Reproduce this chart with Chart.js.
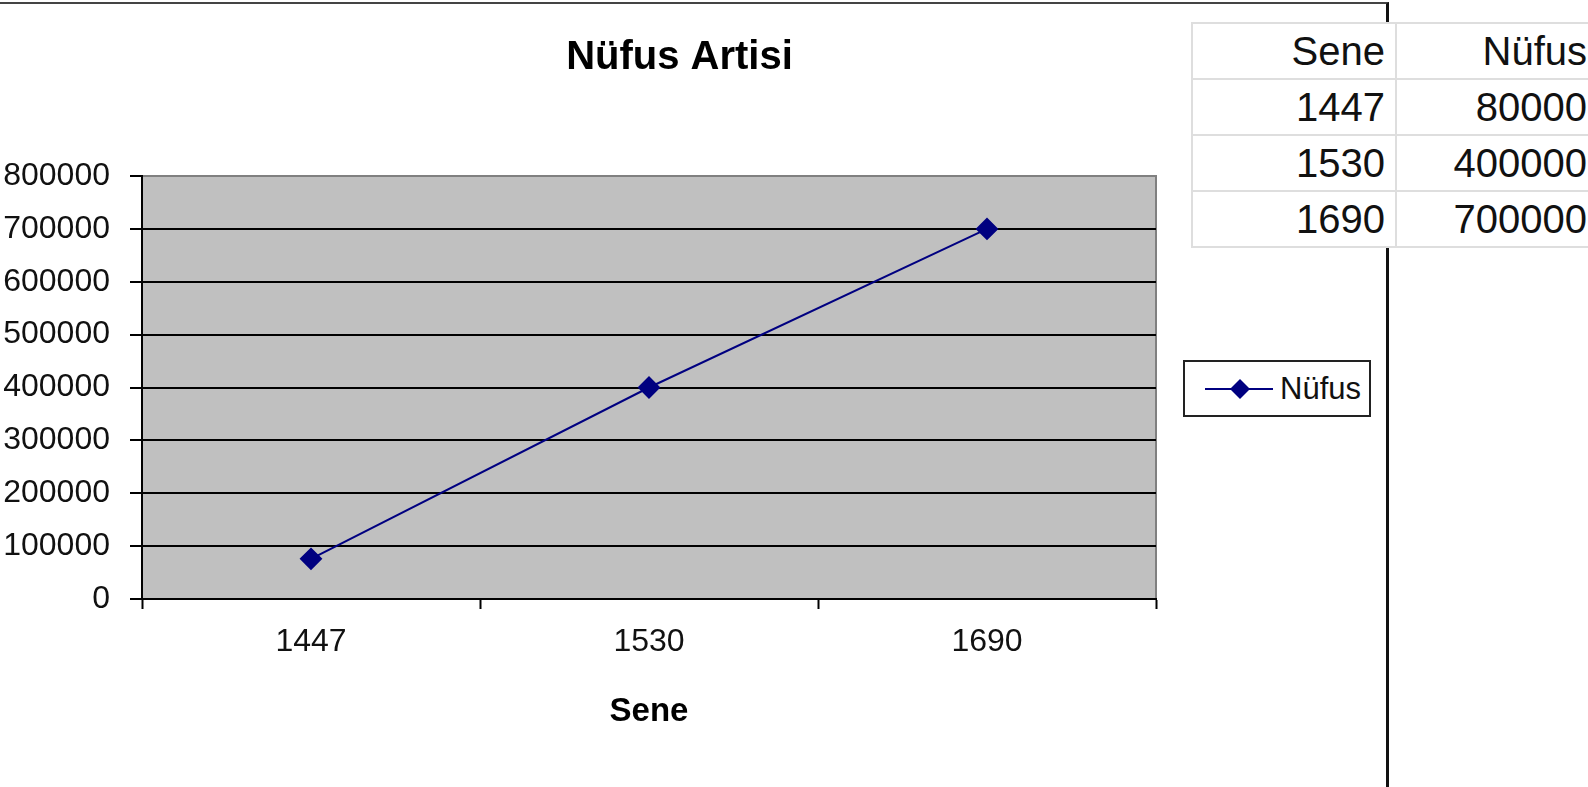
<!DOCTYPE html>
<html>
<head>
<meta charset="utf-8">
<script src="https://cdn.jsdelivr.net/npm/chart.js@4"></script>
<style>
  body { margin: 0; background: #fff; width: 1588px; height: 787px; overflow: hidden; position: relative; font-family: "Liberation Sans", Arial, sans-serif; }
  #frame { position: absolute; left: 0; top: 2px; width: 1386px; height: 783px; border-top: 2px solid #444; border-right: 3px solid #111; border-bottom: 1px solid #bbb; }
  #chart-box { position: absolute; left: 0; top: 4px; width: 1387px; height: 781px; }
  #data-table { position: absolute; left: 1191px; top: 22px; width: 410px; table-layout: fixed; border-collapse: collapse; background: #fff; z-index: 2; }
  #data-table td { border: 2px solid #dedede; height: 54px; padding: 0 10px 0 0; font-size: 40px; color: #111; text-align: right; line-height: 1; white-space: nowrap; overflow: hidden; }
  #data-table td + td { padding-right: 14px; }
  #legend { position: absolute; left: 1183px; top: 360px; width: 184px; height: 53px; border: 2px solid #222; background: #fff; }
  #legend svg { position: absolute; left: 18px; top: 13px; }
  #legend span { position: absolute; left: 95px; top: 9px; font-size: 31px; color: #111; }
</style>
</head>
<body>
<div id="frame"></div>
<div id="chart-box"><canvas id="nufus-chart" width="1387" height="781"></canvas></div>

<table id="data-table">
  <colgroup><col style="width:204px"><col style="width:206px"></colgroup>
  <tr><td>Sene</td><td>Nüfus</td></tr>
  <tr><td>1447</td><td>80000</td></tr>
  <tr><td>1530</td><td>400000</td></tr>
  <tr><td>1690</td><td>700000</td></tr>
</table>

<div id="legend">
  <svg width="72" height="28">
    <line x1="2" y1="14" x2="70" y2="14" stroke="#000080" stroke-width="2"></line>
    <polygon points="37,4 47,14 37,24 27,14" fill="#000080"></polygon>
  </svg>
  <span>Nüfus</span>
</div>

<script>
const years = ["1447", "1530", "1690"];
const population = [76000, 400000, 700000];
const yTicks = [0, 100000, 200000, 300000, 400000, 500000, 600000, 700000, 800000];

// gray plot area like the old excel chart
const plotBackground = {
  id: "plotBackground",
  beforeDraw(chart) {
    const { ctx, chartArea } = chart;
    ctx.save();
    ctx.fillStyle = "#c0c0c0";
    ctx.fillRect(chartArea.left, chartArea.top, chartArea.right - chartArea.left, chartArea.bottom - chartArea.top);
    ctx.strokeStyle = "#808080";
    ctx.lineWidth = 2;
    ctx.beginPath();
    ctx.moveTo(chartArea.left, chartArea.top);
    ctx.lineTo(chartArea.right, chartArea.top);
    ctx.lineTo(chartArea.right, chartArea.bottom);
    ctx.stroke();
    ctx.restore();
  },
};

new Chart(document.getElementById("nufus-chart"), {
  type: "line",
  data: {
    labels: years,
    datasets: [
      {
        label: "Nüfus",
        data: population,
        borderColor: "#000080",
        backgroundColor: "#000080",
        borderWidth: 2,
        pointStyle: "rectRot",
        pointRadius: 10,
        pointHoverRadius: 10,
        fill: false,
        tension: 0,
      },
    ],
  },
  options: {
    responsive: false,
    animation: false,
    layout: {
      padding: { left: 0, right: 28, top: 0, bottom: 0 },
    },
    plugins: {
      legend: { display: false },
      tooltip: { enabled: false },
      title: {
        display: true,
        text: "Nüfus Artisi",
        color: "#000",
        font: { family: "Liberation Sans", size: 40, weight: "bold", lineHeight: 1.2 },
        padding: { top: 30, bottom: 94 },
      },
    },
    scales: {
      x: {
        offset: true,
        afterFit: (scale) => { scale.height = 186; },
        grid: {
          offset: true,
          drawOnChartArea: false,
          drawTicks: true,
          tickLength: 10,
          tickColor: "#000",
          tickWidth: 2,
        },
        border: { color: "#000", width: 2 },
        ticks: {
          color: "#111",
          padding: 14,
          font: { family: "Liberation Sans", size: 32 },
        },
        title: {
          display: true,
          text: "Sene",
          color: "#000",
          font: { family: "Liberation Sans", size: 33, weight: "bold", lineHeight: 1.2 },
          padding: { top: 0, bottom: 53 },
        },
      },
      y: {
        min: 0,
        max: 800000,
        afterFit: (scale) => { scale.width = 142; },
        afterBuildTicks: (scale) => { scale.ticks = yTicks.map((v) => ({ value: v })); },
        grid: {
          color: (c) => (c.tick && c.tick.value === 800000 ? "#808080" : "#000"),
          lineWidth: 2,
          drawTicks: true,
          tickLength: 12,
          tickColor: "#000",
          tickWidth: 2,
        },
        border: { color: "#000", width: 2 },
        ticks: {
          color: "#111",
          padding: 20,
          font: { family: "Liberation Sans", size: 32 },
          callback: (v) => String(v),
        },
      },
      // empty space on the right where the legend sits
      yRight: {
        type: "linear",
        position: "right",
        afterFit: (scale) => { scale.width = 203; },
        grid: { display: false, drawTicks: false },
        border: { display: false },
        ticks: { display: false },
      },
    },
  },
  plugins: [plotBackground],
});
</script>
</body>
</html>
